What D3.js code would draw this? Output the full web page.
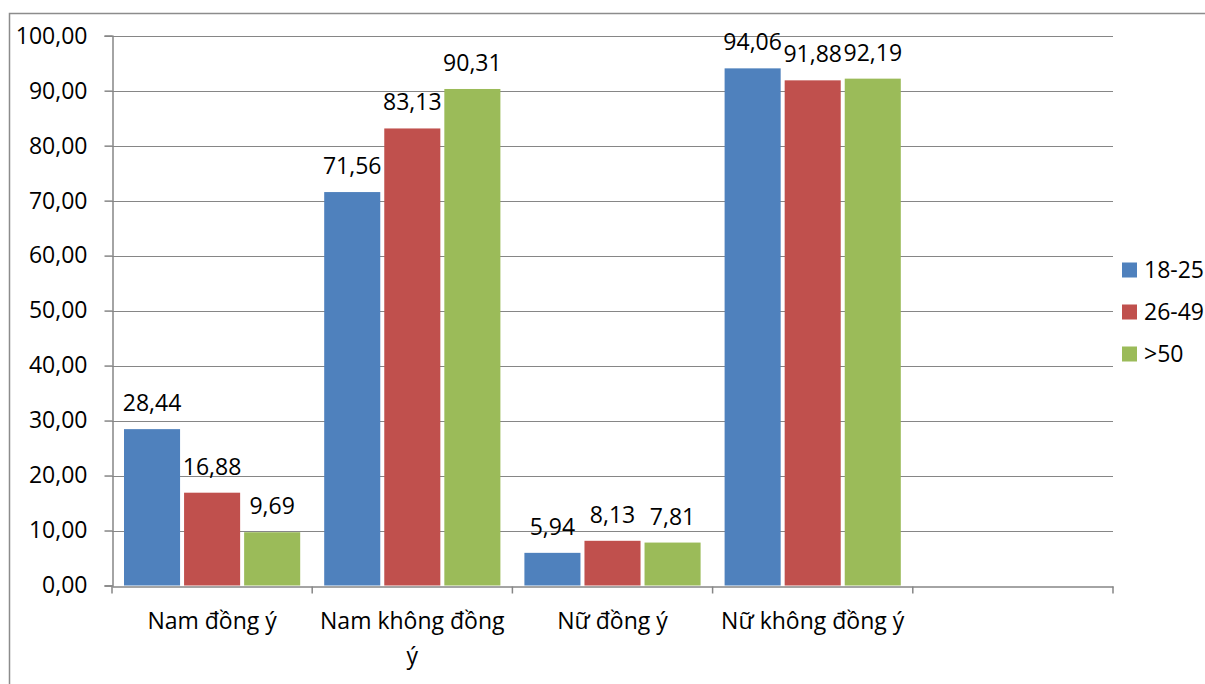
<!DOCTYPE html>
<html>
<head>
<meta charset="utf-8">
<script src="https://cdn.jsdelivr.net/npm/d3@7"></script>
<style>
  html, body { margin: 0; padding: 0; background: #fff; }
  svg text { font-family: "Open Sans", "Noto Sans", sans-serif; fill: #000; }
</style>
</head>
<body>
<svg id="chart" width="1205" height="684"></svg>
<script>
// Survey answers by gender and age group (percent)
const categories = ["Nam đồng ý", "Nam không đồng ý", "Nữ đồng ý", "Nữ không đồng ý", ""];
const seriesNames = ["18-25", "26-49", ">50"];
const seriesColors = ["#4F81BD", "#C0504D", "#9BBB59"];
const values1825 = [28.44, 71.56, 5.94, 94.06];
const values2649 = [16.88, 83.13, 8.13, 91.88];
const values50 = [9.69, 90.31, 7.81, 92.19];
const yTicks = [0, 10, 20, 30, 40, 50, 60, 70, 80, 90, 100];

const series = [values1825, values2649, values50];
const fmt = v => d3.format(".2f")(v).replace(".", ",");
const fontSize = 23;

const svg = d3.select("#chart");
const plot = { left: 112, right: 1113, top: 35.7, bottom: 585.5 };
const gridColor = "#868686";

// outer chart frame
svg.append("rect")
  .attr("x", 9.5).attr("y", 13.5)
  .attr("width", 1300).attr("height", 800)
  .attr("fill", "none").attr("stroke", "#8c8c8c").attr("stroke-width", 1.5);

const x = d3.scaleBand().domain(d3.range(categories.length))
  .range([plot.left, plot.right]).paddingInner(0).paddingOuter(0);
const xInner = d3.scaleBand().domain(d3.range(seriesNames.length))
  .range([12, x.bandwidth() - 8]).paddingInner(0);
const y = d3.scaleLinear().domain([0, 100]).range([plot.bottom, plot.top]);

// horizontal gridlines
svg.append("g").selectAll("line").data(yTicks.filter(t => t > 0)).join("line")
  .attr("x1", plot.left).attr("x2", plot.right)
  .attr("y1", d => Math.round(y(d)) + 0.5).attr("y2", d => Math.round(y(d)) + 0.5)
  .attr("stroke", gridColor).attr("stroke-width", 1.2);

// y axis
const yAxis = d3.axisLeft(y).tickValues(yTicks).tickFormat(fmt).tickSize(8).tickPadding(17);
const gy = svg.append("g").attr("transform", `translate(${plot.left + 0.5},0)`).call(yAxis);
gy.select(".domain").attr("stroke", gridColor).attr("stroke-width", 1.5);
gy.selectAll(".tick line").attr("stroke", gridColor).attr("stroke-width", 1.5);
gy.selectAll(".tick text").attr("font-size", fontSize).attr("font-family", "Open Sans").attr("fill", "#000");

// bars with value labels
const groups = svg.append("g").selectAll("g").data(series).join("g")
  .attr("fill", (d, i) => seriesColors[i]);
groups.each(function(vals, si) {
  d3.select(this).selectAll("rect").data(vals).join("rect")
    .attr("x", (d, ci) => x(ci) + xInner(si))
    .attr("width", xInner.bandwidth() - 4)
    .attr("y", d => y(d))
    .attr("height", d => y(0) - y(d));
  d3.select(this).selectAll("text").data(vals).join("text")
    .attr("x", (d, ci) => x(ci) + xInner(si) + (xInner.bandwidth() - 4) / 2)
    .attr("y", d => y(d) - 18)
    .attr("text-anchor", "middle")
    .attr("font-size", fontSize)
    .attr("fill", "#000")
    .text(d => fmt(d));
});

// x axis
const xAxis = d3.axisBottom(x).tickValues([]).tickSizeOuter(0);
const gx = svg.append("g").attr("transform", `translate(0,${Math.round(plot.bottom) + 0.5})`).call(xAxis);
gx.select(".domain").attr("stroke", gridColor).attr("stroke-width", 1.5);
gx.selectAll(".sep").data(d3.range(categories.length + 1)).join("line")
  .attr("class", "sep")
  .attr("x1", i => (i < categories.length ? x(i) : plot.right))
  .attr("x2", i => (i < categories.length ? x(i) : plot.right))
  .attr("y1", 0).attr("y2", 7)
  .attr("stroke", gridColor).attr("stroke-width", 1.5);

// category labels, wrapped to the band width
const labelG = svg.append("g");
categories.forEach((name, ci) => {
  if (!name) return;
  const cx = x(ci) + x.bandwidth() / 2;
  const t = labelG.append("text")
    .attr("x", cx)
    .attr("y", 629)
    .attr("text-anchor", "middle")
    .attr("font-size", fontSize);
  const words = name.split(" ");
  let line = [];
  let tspan = t.append("tspan").attr("x", cx).attr("dy", 0);
  words.forEach(w => {
    line.push(w);
    tspan.text(line.join(" "));
    if (tspan.node().getComputedTextLength() > 192 && line.length > 1) {
      line.pop();
      tspan.text(line.join(" "));
      line = [w];
      tspan = t.append("tspan").attr("x", cx).attr("dy", 35).text(w);
    }
  });
});

// legend
const legend = svg.append("g").selectAll("g").data(seriesNames).join("g")
  .attr("transform", (d, i) => `translate(1122,${270 + i * 42})`);
legend.append("rect").attr("x", 0).attr("y", -7.5).attr("width", 15).attr("height", 15)
  .attr("fill", (d, i) => seriesColors[i]);
legend.append("text").attr("x", 22).attr("y", 0).attr("dy", "0.35em")
  .attr("font-size", fontSize).text(d => d);
</script>
</body>
</html>
